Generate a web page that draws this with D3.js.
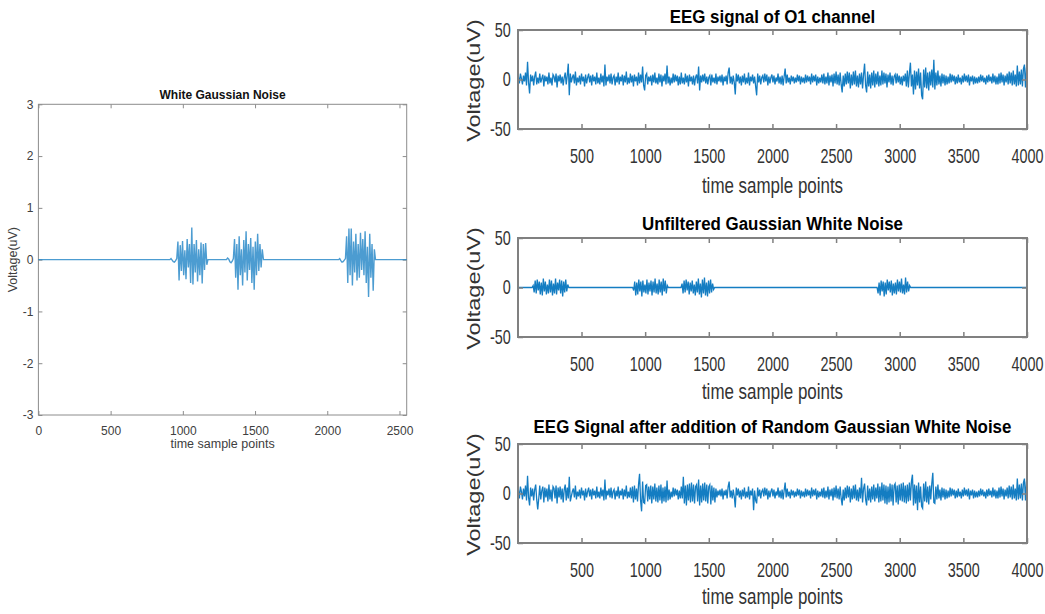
<!DOCTYPE html>
<html>
<head>
<meta charset="utf-8">
<script src="https://cdn.jsdelivr.net/npm/d3@7"></script>
<style>
  body { margin: 0; background: #fff; }
  svg { display: block; font-family: "Liberation Sans", Arial, sans-serif; }
</style>
</head>
<body>
<svg id="chart" width="1045" height="614"></svg>
<script>
// ---- left plot: white gaussian noise (uV) ----
const wgnTicksX = [0, 500, 1000, 1500, 2000, 2500];
const wgnTicksY = [-3, -2, -1, 0, 1, 2, 3];
const wgnStep = 8;
const wgnStarts = [910, 1302, 2078];
const wgnBurstA = [0, 0.02, -0.01, -0.04, -0.05, -0.02, 0.02,
  0.35, -0.4, 0.28, -0.22, 0.36, -0.3, 0.18, -0.38, 0.4, -0.15, 0.3, -0.45, 0.62, -0.48,
  0.3, -0.25, 0.38, -0.42, 0.2, -0.3, 0.33, -0.46, 0.3, -0.2, 0.32, -0.1, 0];
const wgnBurstB = [0, 0.03, 0.01, -0.04, -0.06, -0.03, 0.02,
  0.4, -0.35, 0.3, -0.58, 0.45, -0.3, 0.2, -0.5, 0.38, -0.25, 0.55, -0.4, 0.3, -0.2,
  0.42, -0.45, 0.25, -0.58, 0.35, -0.3, 0.5, -0.22, 0.3, -0.15, 0.2, 0];
const wgnBurstC = [0, 0.02, -0.02, -0.05, -0.04, -0.01, 0.02,
  0.45, -0.45, 0.6, -0.3, 0.6, -0.5, 0.35, -0.25, 0.5, -0.4, 0.3, -0.35, 0.52, -0.2,
  0.4, -0.3, 0.55, -0.45, 0.25, -0.72, 0.5, -0.35, 0.3, -0.6, 0.2, 0];

// ---- right plots (uV, 4000 samples) ----
const eegTicksX = [500, 1000, 1500, 2000, 2500, 3000, 3500, 4000];
const eegTicksY = [-50, 0, 50];
const eegStart = 4;
const eegStep = 8;
const eegO1 = [
  3, -4, 6, 1, -5, 4, -2, 7, -6, 18,
  -3, -14, 5, -2, 4, -6, 3, 8, -5, 2,
  -4, 6, -3, 1, 5, -7, 4, -2, 3, -5,
  7, -4, 2, -6, 5, 3, -3, 6, -8, 4,
  -2, 5, -4, 3, -6, 2, 7, -5, 4, 16,
  -16, 6, -3, 2, 5, -4, 8, -6, 2, -3,
  4, -5, 6, -2, 3, -7, 5, -4, 2, 6,
  -3, 4, -6, 5, -2, 3, -5, 7, -4, 2,
  -5, 6, -3, 4, -7, 15, -6, 3, -2, 5,
  -4, 6, -5, 2, 4, -6, 3, -3, 7, -5,
  3, -2, 5, -6, 4, -3, 8, -5, 2, -4,
  6, -3, 4, -7, 5, -2, 3, -6, 7, -4,
  5, -3, 13, -6, -11, 4, 6, -5, 3, -2,
  4, -6, 5, -3, 7, -4, 2, -5, 6, -3,
  5, -7, 4, -2, 6, -5, 14, -4, 3, -6,
  2, -4, 6, -3, 5, -2, 4, -6, 3, -5,
  7, -4, 2, -5, 6, -3, 4, -7, 5, -2,
  3, -5, 4, -6, 2, 5, -4, 13, -11, 4,
  -3, 5, -2, 6, -4, 3, -5, 2, 4, -6,
  5, -3, 2, -4, 6, -5, 3, -2, 4, -3,
  5, -6, 3, -2, 4, -5, 7, 12, -4, 3,
  -5, 4, -3, -15, 6, -2, 5, -4, 3, -6,
  4, -3, 6, -5, 2, -4, 7, -6, 3, -2,
  5, -4, 3, -7, -16, 6, -3, 4, -5, 2,
  4, -3, 6, -2, 5, -6, 3, -4, 2, 5,
  -3, 4, -5, 2, -2, 6, -4, 3, -5, 4,
  -6, 3, 11, -4, 5, -3, 2, -5, 4, -2,
  3, -4, 2, -3, 5, -2, 4, -5, 3, -3,
  2, -4, 5, -3, 4, -2, 3, -5, 6, -3,
  4, -2, 5, -6, 3, -4, 2, -3, 5, -4,
  6, -5, 3, -4, 7, -6, 4, -3, 5, -7,
  6, -4, 8, -5, 5, -6, 7, -5, -13, 4,
  -7, 6, -5, 8, -4, 7, -9, 5, -6, 8,
  -5, 9, -7, 4, -8, 6, -5, 7, -9, 5,
  16, -6, -13, 8, -7, 5, -9, 7, -6, 9,
  -8, 6, -5, 8, -7, 4, -6, 9, -5, 7,
  -4, 6, -8, 5, -3, 7, -5, 4, -6, 3,
  5, -4, 6, -3, 4, -5, 3, -6, 4, -2,
  6, -7, 9, -8, 6, 17, -7, 5, -15, 9,
  -10, 8, -6, 11, -9, 7, -16, -20, 10, -8,
  12, -9, 7, -11, 8, -6, 10, -8, 20, -10,
  7, -6, 9, -5, 4, -7, 6, -4, 5, -6,
  4, -5, 3, -4, 6, -3, 5, -2, 4, -5,
  3, -4, 5, -3, 2, -5, 4, -3, 6, -2,
  4, -3, 5, -6, 3, -2, 4, -5, 3, -4,
  2, -4, 3, -3, 5, -2, 4, -3, 2, -5,
  4, -3, 5, -2, 3, -4, 6, -3, 4, -5,
  3, -5, 6, -4, 7, -3, 5, -6, 4, -3,
  6, -5, 8, -4, 7, -6, 9, -5, 5, -7,
  14, -6, 8, -5, 10, -7, 11, 15, -8, 12
];
const noiseStep = 8;
const noiseStarts = [120, 910, 1290, 2830];
const noiseBurst1 = [2, -5, 7, -6, 8, -3, 6, -7, 5, -8, 9, -4, 6, -7, 3, -6, 8, -5, 7, -8,
  4, -6, 9, -7, 5, -3, 8, -6, 7, -9, 6, -5, 8, -4, 3];
const noiseBurst2 = [-3, 6, -8, 5, -7, 8, -4, 6, -9, 7, -5, 3, -6, 8, -7, 5, -4, 7, -8, 6,
  -5, 9, -6, 4, -7, 8, -5, 6, -8, 9, -4, 7, -6, 2];
const noiseBurst3 = [4, -6, 7, -5, 8, -3, 6, -7, 5, -4, 7, -6, 3, -8, 6, -5, 9, -7, 4, -10,
  8, -6, 10, -8, 5, -9, 7, -6, 8, -5, 4, -2];
const noiseBurst4 = [-6, 5, -8, 7, -4, 6, -9, 5, -7, 8, -3, 6, -5, 7, -8, 4, -6, 5, -7, 8,
  -4, 6, -5, 9, -6, 3, -7, 10, -5, 6, -4, 2];
const eegNoisy = [
  4, -5, 7, 2, -6, 5, -3, 8, -7, 18,
  -4, -12, 6, -3, 5, -7, 4, 9, -6, -16,
  -5, 8, -6, 3, 7, -9, 6, -4, 5, -8,
  9, -6, 4, -8, 7, 5, -5, 8, -10, 6,
  -4, 7, -6, 5, -9, 4, 9, -7, 6, -5,
  17, -8, -3, 2, 5, -4, 8, -6, 2, -3,
  4, -5, 6, -2, 3, -7, 5, -4, 2, 6,
  -3, 4, -6, 5, -2, 3, -5, 7, -4, 2,
  -5, 6, -3, 4, -7, 14, -6, 3, -2, 5,
  -4, 6, -5, 2, 4, -6, 3, -3, 7, -5,
  3, -2, 5, -6, 4, -3, 8, -5, 2, -4,
  6, -5, 7, -9, 8, -6, 5, -8, 9, 20,
  -7, -18, 12, -9, -10, 8, 9, -8, 7, -6,
  8, -10, 7, -6, 10, -8, 6, -9, 8, -7,
  9, -10, 6, -8, 7, -9, 13, -7, 4, -6,
  2, -4, 6, -3, 5, -2, 4, -6, 3, -5,
  7, -5, 17, -10, 8, -12, 9, -7, 10, -9,
  11, -8, 9, -10, 7, 9, -8, 14, -12, 8,
  -9, 10, -7, 11, -8, 9, -10, 7, 9, -11,
  8, -7, 6, -9, 5, -4, 3, -2, 4, -3,
  5, -6, 3, -2, 4, -5, 7, 12, -4, 3,
  -5, 4, -3, -14, 6, -2, 5, -4, 3, -6,
  4, -3, 6, -5, 2, -4, 7, -6, 3, -2,
  5, -17, 3, -7, -10, 6, -3, 4, -5, 2,
  4, -3, 6, -2, 5, -6, 3, -4, 2, 5,
  -3, 4, -5, 2, -2, 6, -4, 3, -5, 4,
  -6, 3, 11, -4, 5, -3, 2, -5, 4, -2,
  3, -4, 2, -3, 5, -2, 4, -5, 3, -3,
  2, -4, 5, -3, 4, -2, 3, -5, 6, -3,
  4, -2, 5, -6, 3, -4, 2, -3, 5, -4,
  6, -5, 3, -4, 7, -6, 4, -3, 5, -7,
  6, -4, 8, -5, 5, -6, 7, -5, -12, 4,
  -7, 6, -5, 8, -4, 7, -9, 5, -6, 8,
  -5, 9, -7, 4, -8, 6, -5, 16, -9, 5,
  10, -6, -12, 8, -7, 5, -9, 7, -6, 9,
  -8, 6, -5, 10, -9, 7, -8, 11, -7, 9,
  -10, 8, -11, 7, -9, 10, -8, 9, -12, 8,
  10, -9, 8, -11, 9, -7, 10, -8, 11, -9,
  8, -10, 9, -8, 11, -7, 12, 19, -12, 9,
  -10, 8, -17, 11, -9, 7, -13, -15, 10, -8,
  12, -9, 7, -11, 8, -6, 10, 21, -9, -10,
  7, -6, 9, -5, 4, -7, 6, -4, 5, -6,
  4, -5, 3, -4, 6, -3, 5, -2, 4, -5,
  3, -4, 5, -3, 2, -5, 4, -3, 6, -2,
  4, -3, 5, -6, 3, -2, 4, -5, 3, -4,
  2, -4, 3, -3, 5, -2, 4, -3, 2, -5,
  4, -3, 5, -2, 3, -4, 6, -3, 4, -5,
  3, -5, 6, -4, 7, -3, 5, -6, 4, -3,
  6, -5, 8, -4, 7, -6, 9, -5, 5, -7,
  15, -6, 9, -5, 10, -7, 11, 15, -7, 12
];

// build point lists
function burstSeries(starts, bursts, step, x0, x1) {
  const pts = [[x0, 0]];
  bursts.forEach((b, k) => {
    const s = starts[k];
    pts.push([s - step, 0]);
    b.forEach((v, i) => pts.push([s + i * step, v]));
    pts.push([s + b.length * step, 0]);
  });
  pts.push([x1, 0]);
  return pts;
}
const wgnSeries = burstSeries(wgnStarts, [wgnBurstA, wgnBurstB, wgnBurstC], wgnStep, 0, 2550);
const noiseSeries = burstSeries(noiseStarts, [noiseBurst1, noiseBurst2, noiseBurst3, noiseBurst4], noiseStep, 1, 4000);
const o1Series = eegO1.map((v, i) => [eegStart + i * eegStep, v]);
const noisySeries = eegNoisy.map((v, i) => [eegStart + i * eegStep, v]);

const svg = d3.select('#chart');
const blue = '#0072BD';
const fmt = d => String(d);

// squeezed text helper (right panels are stretched vertically in the source)
function label(g, txt, x, y, opts) {
  const o = Object.assign({ size: 12, sx: 1, sy: 1, rot: 0, weight: 'normal', fill: '#404040' }, opts);
  g.append('text')
    .attr('transform', `translate(${x},${y}) rotate(${o.rot}) scale(${o.sx},${o.sy})`)
    .attr('text-anchor', 'middle')
    .attr('font-size', o.size)
    .attr('font-weight', o.weight)
    .attr('fill', o.fill)
    .text(txt);
}

function cleanAxis(g, color, width) {
  g.attr('font-family', null).attr('font-size', null);
  g.select('.domain').remove();
  g.selectAll('line').attr('stroke', color).attr('stroke-width', width);
}

// ---------- left plot ----------
{
  const L = { x0: 38.4, x1: 406.7, y0: 104.3, y1: 415 };
  const x = d3.scaleLinear().domain([0, 2550]).range([L.x0, L.x1]);
  const y = d3.scaleLinear().domain([-3, 3]).range([L.y1, L.y0]);
  const g = svg.append('g');
  const axisCol = '#8c8c8c';

  g.append('g').attr('transform', `translate(0,${L.y1})`)
    .call(d3.axisBottom(x).tickValues(wgnTicksX).tickFormat(fmt).tickSize(-4).tickSizeOuter(0).tickPadding(11.5))
    .call(a => cleanAxis(a, axisCol, 1))
    .selectAll('text').attr('font-size', 12).attr('fill', '#404040');
  g.append('g').attr('transform', `translate(0,${L.y0})`)
    .call(d3.axisTop(x).tickValues(wgnTicksX).tickFormat('').tickSize(-4).tickSizeOuter(0))
    .call(a => cleanAxis(a, axisCol, 1));
  g.append('g').attr('transform', `translate(${L.x0},0)`)
    .call(d3.axisLeft(y).tickValues(wgnTicksY).tickFormat(fmt).tickSize(-4).tickSizeOuter(0).tickPadding(5))
    .call(a => cleanAxis(a, axisCol, 1))
    .selectAll('text').attr('font-size', 12).attr('fill', '#404040');
  g.append('g').attr('transform', `translate(${L.x1},0)`)
    .call(d3.axisRight(y).tickValues(wgnTicksY).tickFormat('').tickSize(-4).tickSizeOuter(0))
    .call(a => cleanAxis(a, axisCol, 1));

  g.append('rect').attr('x', L.x0).attr('y', L.y0)
    .attr('width', L.x1 - L.x0).attr('height', L.y1 - L.y0)
    .attr('fill', 'none').attr('stroke', axisCol).attr('stroke-width', 1);

  g.append('path').datum(wgnSeries)
    .attr('fill', 'none').attr('stroke', blue).attr('stroke-width', 1.4).attr('opacity', 0.7)
    .attr('d', d3.line().x(d => x(d[0])).y(d => y(d[1])));

  const cx = (L.x0 + L.x1) / 2;
  label(g, 'White Gaussian Noise', cx, 99, { size: 12, weight: 'bold', fill: '#111' });
  label(g, 'time sample points', cx, 448, { size: 12.5 });
  label(g, 'Voltage(uV)', 17, (L.y0 + L.y1) / 2, { size: 12.5, rot: -90 });
}

// ---------- right plots ----------
const panels = [
  { title: 'EEG signal of O1 channel', series: o1Series, top: 30, bottom: 129, titleY: 23, labelY: 193 },
  { title: 'Unfiltered Gaussian White Noise', series: noiseSeries, top: 238, bottom: 337, titleY: 230, labelY: 399 },
  { title: 'EEG Signal after addition of Random Gaussian White Noise', series: noisySeries, top: 444, bottom: 543, titleY: 433, labelY: 604 }
];
const R = { x0: 518, x1: 1027 };
const rx = d3.scaleLinear().domain([1, 4000]).range([R.x0, R.x1]);
const boxCol = '#808080';

panels.forEach((p, k) => {
  const y = d3.scaleLinear().domain([-50, 50]).range([p.bottom, p.top]);
  const g = svg.append('g');

  g.append('defs').append('clipPath').attr('id', 'clip' + k)
    .append('rect').attr('x', R.x0).attr('y', p.top).attr('width', R.x1 - R.x0).attr('height', p.bottom - p.top);

  g.append('path').datum(p.series)
    .attr('clip-path', `url(#clip${k})`)
    .attr('fill', 'none').attr('stroke', blue).attr('stroke-width', 1.3).attr('opacity', 0.92)
    .attr('d', d3.line().x(d => rx(d[0])).y(d => y(d[1])));

  g.append('g').attr('transform', `translate(0,${p.bottom})`)
    .call(d3.axisBottom(rx).tickValues(eegTicksX).tickFormat(fmt).tickSize(-5).tickSizeOuter(0).tickPadding(20))
    .call(a => cleanAxis(a, boxCol, 1.5))
    .selectAll('text').attr('font-size', 20).attr('fill', '#333').attr('transform', 'scale(0.72,1)');
  g.append('g').attr('transform', `translate(0,${p.top})`)
    .call(d3.axisTop(rx).tickValues(eegTicksX).tickFormat('').tickSize(-5).tickSizeOuter(0))
    .call(a => cleanAxis(a, boxCol, 1.5));
  g.append('g').attr('transform', `translate(${R.x0},0)`)
    .call(d3.axisLeft(y).tickValues(eegTicksY).tickFormat(fmt).tickSize(-5).tickSizeOuter(0).tickPadding(10))
    .call(a => cleanAxis(a, boxCol, 1.5))
    .selectAll('text').attr('font-size', 20).attr('fill', '#333').attr('transform', 'scale(0.72,1)');
  g.append('g').attr('transform', `translate(${R.x1},0)`)
    .call(d3.axisRight(y).tickValues(eegTicksY).tickFormat('').tickSize(-5).tickSizeOuter(0))
    .call(a => cleanAxis(a, boxCol, 1.5));

  g.append('rect').attr('x', R.x0).attr('y', p.top)
    .attr('width', R.x1 - R.x0).attr('height', p.bottom - p.top)
    .attr('fill', 'none').attr('stroke', boxCol).attr('stroke-width', 2);

  const cx = (R.x0 + R.x1) / 2;
  label(g, p.title, cx, p.titleY, { size: 19, sx: 0.89, weight: 'bold', fill: '#000' });
  label(g, 'time sample points', cx, p.labelY, { size: 22, sx: 0.77, fill: '#333' });
  label(g, 'Voltage(uV)', 480, (p.top + p.bottom) / 2 + 1, { size: 23.5, rot: -90, sy: 0.8, fill: '#333' });
});
</script>
</body>
</html>
